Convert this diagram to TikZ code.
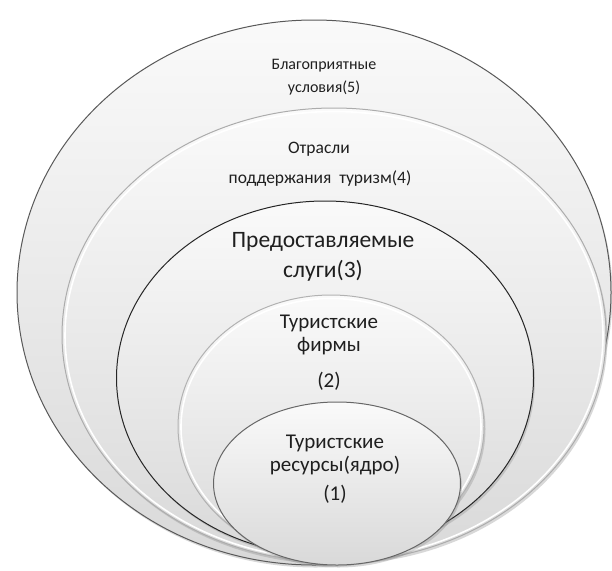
\documentclass[tikz,border=0pt]{standalone}
\usepackage{fontspec}
\setmainfont{Carlito}
\usetikzlibrary{shapes.geometric,shadows}
\begin{document}
\begin{tikzpicture}[x=1pt,y=-1pt,
  ring/.style={ellipse, inner sep=0pt, top color=gray!4, bottom color=gray!30,
    line width=1pt, drop shadow={shadow xshift=1.5pt,shadow yshift=-2.5pt,opacity=0.3}},
  hilite/.style={ellipse, inner sep=0pt, draw=white, line width=1.6pt},
  lbl/.style={font=\fontsize{16}{18}\selectfont, text=black!88, inner sep=0pt},
  lbld/.style={font=\fontsize{17.5}{20}\selectfont, text=black!88, inner sep=0pt},
  lblb/.style={font=\fontsize{21}{24}\selectfont, text=black!88, inner sep=0pt},
  lblc/.style={font=\fontsize{23.5}{26}\selectfont, text=black!88, inner sep=0pt}]
\fill[white] (0,0) rectangle (612,570);
\useasboundingbox (0,0) rectangle (612,570);
\node[ring, draw=black!65, minimum width=594pt, minimum height=545pt] (e5) at (314,292.5) {};
\node[ring, draw=gray!65, minimum width=544pt, minimum height=454pt] (e4) at (334,335) {};
\node[hilite, minimum width=538pt, minimum height=448pt] (h4) at (334,335.5) {};
\node[ring, draw=black!85, minimum width=417pt, minimum height=354pt] (e3) at (325,378) {};
\node[ring, draw=gray!60, minimum width=306pt, minimum height=263pt] (e2) at (331,426.5) {};
\node[hilite, minimum width=300pt, minimum height=257pt] (h2) at (331,427) {};
\node[ring, draw=black!60, minimum width=247pt, minimum height=163pt] (e1) at (337,483.5) {};
\node[lbl] (t5a) at (324,66) {Благоприятные};
\node[lbl] (t5b) at (324,88) {условия(5)};
\node[lbld] (t4a) at (319,149) {Отрасли};
\node[lbld] (t4b) at (320,179) {поддержания\ \ туризм(4)};
\node[lblc] (t3a) at (323,242) {Предоставляемые};
\node[lblc] (t3b) at (323,271) {слуги(3)};
\node[lblb] (t2a) at (329,323) {Туристские};
\node[lblb] (t2b) at (329,346) {фирмы};
\node[lblb] (t2c) at (329,381) {(2)};
\node[lblb] (t1a) at (335,443) {Туристские};
\node[lblb] (t1b) at (335,466) {ресурсы(ядро)};
\node[lblb] (t1c) at (335,494) {(1)};
\end{tikzpicture}
\end{document}
